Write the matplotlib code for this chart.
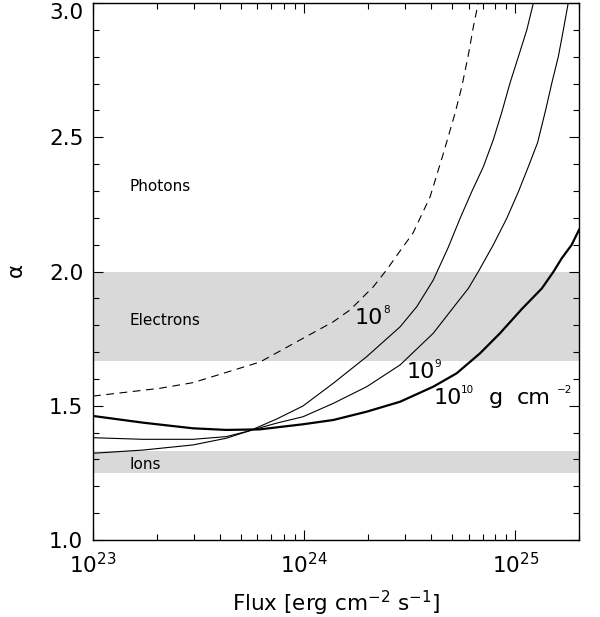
import numpy as np
import matplotlib
matplotlib.use("Agg")
import matplotlib.pyplot as plt
from matplotlib.ticker import MultipleLocator, LogLocator, NullFormatter

plt.rcParams["font.family"] = ["DejaVu Sans"]
plt.rcParams["mathtext.default"] = "regular"

# log10(flux) and spectral index alpha along each curve
dashed_logf = [23.0, 23.316, 23.473, 23.791, 23.98, 24.138, 24.217, 24.327, 24.39, 24.446,
               24.515, 24.596, 24.659, 24.714, 24.746, 24.777, 24.801, 24.824]
dashed_alpha = [1.536, 1.565, 1.586, 1.663, 1.745, 1.813, 1.857, 1.943, 2.006, 2.068,
                2.143, 2.278, 2.44, 2.589, 2.688, 2.806, 2.912, 3.0]

col8_logf = [23.0, 23.237, 23.473, 23.631, 23.742, 23.868, 23.994, 24.138, 24.296, 24.454,
             24.533, 24.611, 24.682, 24.738, 24.793, 24.848, 24.895, 24.935, 24.974, 25.014,
             25.054, 25.085]
col8_alpha = [1.323, 1.335, 1.354, 1.379, 1.407, 1.45, 1.499, 1.584, 1.683, 1.794,
              1.869, 1.968, 2.09, 2.198, 2.297, 2.39, 2.49, 2.592, 2.701, 2.8,
              2.9, 3.0]

col9_logf = [23.0, 23.237, 23.473, 23.631, 23.742, 23.868, 23.994, 24.138, 24.296, 24.454,
             24.611, 24.722, 24.777, 24.824, 24.895, 24.959, 25.014, 25.061, 25.105, 25.143,
             25.172, 25.203, 25.227, 25.25]
col9_alpha = [1.381, 1.375, 1.375, 1.385, 1.407, 1.435, 1.459, 1.509, 1.571, 1.652,
              1.77, 1.882, 1.937, 1.999, 2.099, 2.198, 2.297, 2.39, 2.48, 2.601,
              2.701, 2.8, 2.9, 3.0]

col10_logf = [23.0, 23.237, 23.473, 23.631, 23.789, 23.994, 24.138, 24.296, 24.454, 24.611,
              24.722, 24.832, 24.927, 25.03, 25.125, 25.18, 25.219, 25.266, 25.301]
col10_alpha = [1.462, 1.437, 1.416, 1.41, 1.412, 1.431, 1.447, 1.478, 1.515, 1.571,
               1.621, 1.695, 1.77, 1.86, 1.937, 1.999, 2.049, 2.099, 2.155]

# shaded alpha ranges for particle species
electron_band = (5.0 / 3.0, 2.0)
ion_band = (1.25, 4.0 / 3.0)

fig = plt.figure(figsize=(6.0, 6.17), dpi=100)
ax = fig.add_axes([0.155, 0.1248, 0.81, 0.8703])

ax.axhspan(*electron_band, color="#d9d9d9", lw=0, zorder=0)
ax.axhspan(*ion_band, color="#d9d9d9", lw=0, zorder=0)

ax.plot(10 ** np.array(dashed_logf), dashed_alpha, color="black", lw=0.8,
        dashes=(7, 5))
ax.plot(10 ** np.array(col8_logf), col8_alpha, color="black", lw=0.8)
ax.plot(10 ** np.array(col9_logf), col9_alpha, color="black", lw=0.8)
ax.plot(10 ** np.array(col10_logf), col10_alpha, color="black", lw=1.6)

ax.set_xscale("log")
ax.set_xlim(1e23, 2e25)
ax.set_ylim(1.0, 3.0)

ax.text(10 ** 23.175, 2.315, "Photons", fontsize=11, va="center")
ax.text(10 ** 23.175, 1.816, "Electrons", fontsize=11, va="center")
ax.text(10 ** 23.175, 1.280, "Ions", fontsize=11, va="center")


def column_label(logf, alpha, parts):
    # parts: (text, dx in pixels, superscript?)
    for s, dx, sup in parts:
        ax.annotate(s, xy=(10 ** logf, alpha), xytext=(dx, 8 if sup else 0),
                    textcoords="offset pixels", va="center", ha="left",
                    fontsize=7.5 if sup else 16)


column_label(24.24, 1.826, [("10", 0, False), ("8", 28, True)])
column_label(24.485, 1.627, [("10", 0, False), ("9", 28, True)])
column_label(24.611, 1.528, [("10", 0, False), ("10", 28, True), ("g", 55, False),
                             ("cm", 83, False), ("\u22122", 124, True)])

ax.yaxis.set_major_locator(MultipleLocator(0.5))
ax.yaxis.set_minor_locator(MultipleLocator(0.1))
ax.yaxis.set_major_formatter(plt.FormatStrFormatter("%.1f"))
ax.xaxis.set_major_locator(LogLocator(base=10, numticks=10))
ax.xaxis.set_minor_locator(LogLocator(base=10, subs=np.arange(2, 10), numticks=20))
ax.xaxis.set_minor_formatter(NullFormatter())

ax.tick_params(which="both", direction="in", top=True, right=True, width=0.8,
               labelsize=15.5)
ax.tick_params(which="major", length=7.5)
ax.tick_params(which="minor", length=4)
ax.tick_params(axis="x", pad=9)
ax.tick_params(axis="y", pad=7)
for s in ax.spines.values():
    s.set_linewidth(1.0)

ax.set_xlabel("Flux [erg cm$^{-2}$ s$^{-1}$]", fontsize=15.5, labelpad=8)
ax.set_ylabel(r"$\alpha$", fontsize=15.5, labelpad=16)

# keep the top tick label inside the figure
fig.canvas.draw()
for tick in ax.yaxis.get_major_ticks():
    if abs(tick.get_loc() - 3.0) < 1e-6:
        tick.label1.set_verticalalignment("top")

fig.savefig("out.png", dpi=100)
